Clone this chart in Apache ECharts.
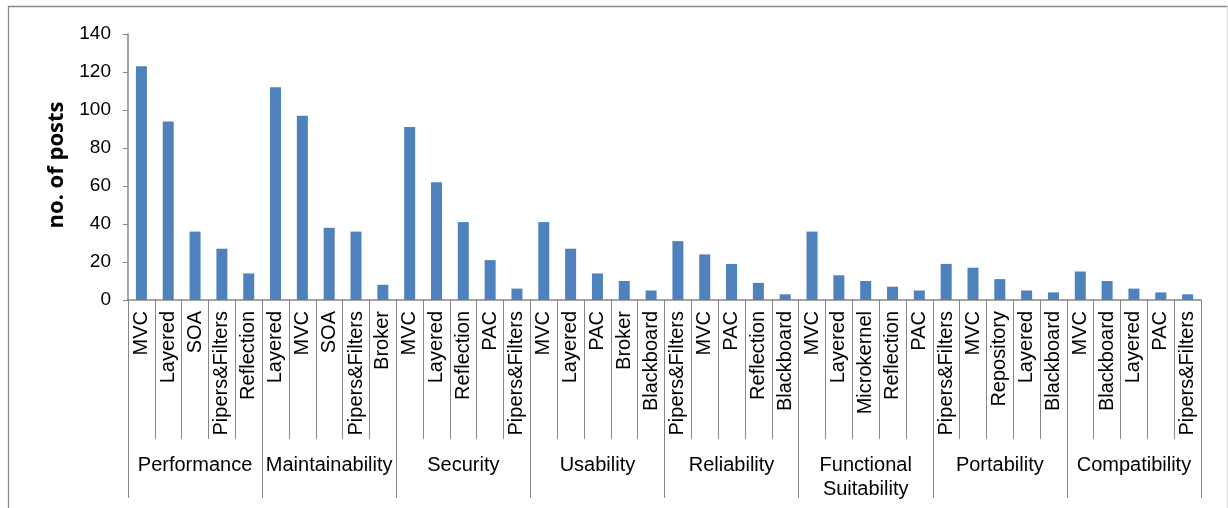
<!DOCTYPE html>
<html>
<head>
<meta charset="utf-8">
<script src="https://cdn.jsdelivr.net/npm/echarts@6/dist/echarts.min.js"></script>
<style>
  html, body { margin: 0; padding: 0; background: #fff; }
  #chart { width: 1228px; height: 508px; }
</style>
</head>
<body>
<div id="chart"></div>
<script>
// Quality attributes (outer axis level), five patterns each
const groups = ['Performance', 'Maintainability', 'Security', 'Usability',
  'Reliability', 'Functional\nSuitability', 'Portability', 'Compatibility'];

// Architecture patterns (inner axis level), in order within each group
const patterns = [
  'MVC', 'Layered', 'SOA', 'Pipers&Filters', 'Reflection',
  'Layered', 'MVC', 'SOA', 'Pipers&Filters', 'Broker',
  'MVC', 'Layered', 'Reflection', 'PAC', 'Pipers&Filters',
  'MVC', 'Layered', 'PAC', 'Broker', 'Blackboard',
  'Pipers&Filters', 'MVC', 'PAC', 'Reflection', 'Blackboard',
  'MVC', 'Layered', 'Microkernel', 'Reflection', 'PAC',
  'Pipers&Filters', 'MVC', 'Repository', 'Layered', 'Blackboard',
  'MVC', 'Blackboard', 'Layered', 'PAC', 'Pipers&Filters'
];

// Number of posts per pattern
const posts = [
  123, 94, 36, 27, 14,
  112, 97, 38, 36, 8,
  91, 62, 41, 21, 6,
  41, 27, 14, 10, 5,
  31, 24, 19, 9, 3,
  36, 13, 10, 7, 5,
  19, 17, 11, 5, 4,
  15, 10, 6, 4, 3
];

const yTicks = { min: 0, max: 140, step: 20 };

const FONT = '"Liberation Sans", Arial, sans-serif';
const GRAY = '#868686';

const chart = echarts.init(document.getElementById('chart'), null, { renderer: 'canvas' });

chart.setOption({
  animation: false,
  backgroundColor: '#ffffff',
  grid: { left: 128, right: 27, top: 34, bottom: 208 },
  xAxis: [
    {
      type: 'category',
      data: patterns,
      position: 'bottom',
      axisLine: { show: true, lineStyle: { color: GRAY, width: 1.5 } },
      axisTick: { show: true, interval: 0, length: 139, lineStyle: { color: GRAY, width: 1 } },
      axisLabel: {
        interval: 0, rotate: 90, margin: 11,
        fontFamily: FONT, fontSize: 20, color: '#000'
      },
      splitLine: { show: false }
    },
    {
      type: 'category',
      data: groups,
      position: 'bottom',
      axisLine: { show: false },
      axisTick: { show: true, interval: 0, length: 198, lineStyle: { color: GRAY, width: 1 } },
      axisLabel: {
        interval: 0, margin: 153,
        fontFamily: FONT, fontSize: 20, lineHeight: 24, color: '#000', align: 'center'
      },
      splitLine: { show: false }
    }
  ],
  yAxis: {
    type: 'value',
    min: yTicks.min, max: yTicks.max, interval: yTicks.step,
    axisLine: { show: true, lineStyle: { color: GRAY, width: 1.5 } },
    axisTick: { show: true, inside: false, length: 5, lineStyle: { color: GRAY, width: 1 } },
    axisLabel: { fontFamily: FONT, fontSize: 19, color: '#000', margin: 17 },
    splitLine: { show: false }
  },
  series: [{
    type: 'bar',
    xAxisIndex: 0,
    data: posts,
    barWidth: 11,
    itemStyle: { color: '#4F81BD' }
  }],
  graphic: [
    {
      type: 'text',
      x: 57, y: 165,
      rotation: Math.PI / 2,
      style: {
        text: 'no. of posts',
        font: 'bold 22px "Open Sans", sans-serif',
        fill: '#000',
        align: 'center',
        verticalAlign: 'middle'
      }
    },
    // chart area frame
    { type: 'line', shape: { x1: 8, y1: 6.5, x2: 1228, y2: 6.5 }, style: { stroke: '#8a8a8a', lineWidth: 1.3 } },
    { type: 'line', shape: { x1: 8.5, y1: 6, x2: 8.5, y2: 508 }, style: { stroke: '#8a8a8a', lineWidth: 1.3 } },
    { type: 'line', shape: { x1: 1227.5, y1: 6, x2: 1227.5, y2: 508 }, style: { stroke: '#dcdcdc', lineWidth: 1 } }
  ]
});
</script>
</body>
</html>
